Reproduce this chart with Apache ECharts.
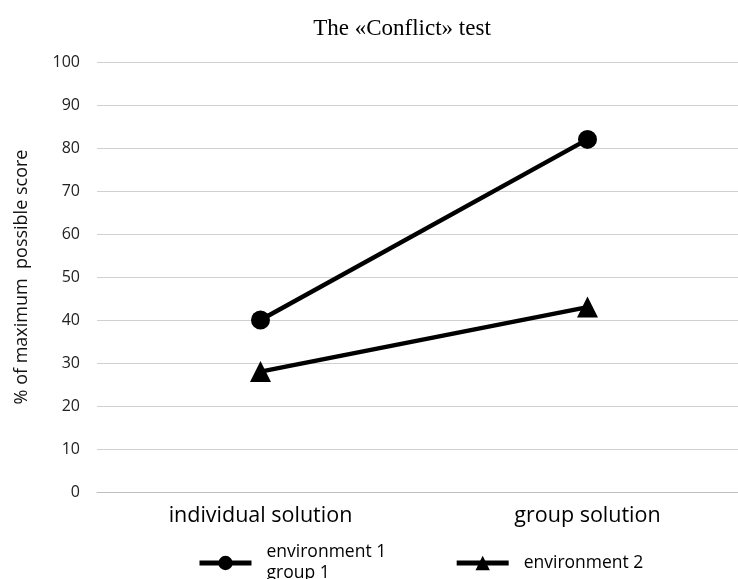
<!DOCTYPE html>
<html><head><meta charset="utf-8">
<script src="https://cdn.jsdelivr.net/npm/echarts@6/dist/echarts.min.js"></script>
<style>html,body{margin:0;padding:0;background:#fff}#c{width:738px;height:579px}</style>
</head><body><div id="c"></div>
<script>
const categories = ['individual solution', 'group solution'];
const env1Name = 'environment 1\ngroup 1';
const env2Name = 'environment 2';
const env1 = [40, 82];
const env2 = [28, 43];
const yTicks = [0, 10, 20, 30, 40, 50, 60, 70, 80, 90, 100];

const chart = echarts.init(document.getElementById('c'));
chart.setOption({
  backgroundColor: '#fff',
  animation: false,
  title: {
    text: 'The «Conflict» test', left: 397, top: 12, textAlign: 'center',
    textStyle: { fontFamily: 'Liberation Serif', fontSize: 23, fontWeight: 'normal', color: '#000' }
  },
  grid: { left: 97, width: 654, top: 62, bottom: 87, outerBoundsMode: 'none', containLabel: false },
  legend: {
    left: 192, top: 537, itemWidth: 52, itemHeight: 18, itemGap: 68,
    lineStyle: { width: 5 },
    textStyle: { fontFamily: 'Open Sans', fontSize: 17.5, color: '#000', lineHeight: 21, padding: [0, 0, 0, 10] },
    data: [env1Name, env2Name]
  },
  xAxis: {
    type: 'category', data: categories, boundaryGap: true,
    axisLine: { lineStyle: { color: '#bfbfbf', width: 1 } },
    axisTick: { show: false },
    axisLabel: { fontFamily: 'Open Sans', fontSize: 21.5, color: '#000', margin: 13 }
  },
  yAxis: {
    type: 'value', min: yTicks[0], max: yTicks[yTicks.length - 1], interval: 10,
    name: '% of maximum  possible score', nameLocation: 'middle', nameGap: 66, nameRotate: 90,
    nameTextStyle: { fontFamily: 'Open Sans', fontSize: 18, color: '#111' },
    axisLine: { show: false }, axisTick: { show: false },
    axisLabel: { fontFamily: 'Open Sans', fontSize: 16, color: '#222', margin: 17 },
    splitLine: { lineStyle: { color: '#d0d0d0', width: 1 } }
  },
  series: [
    { name: env1Name, type: 'line', data: env1, symbol: 'circle', symbolSize: 19,
      lineStyle: { color: '#000', width: 4.5 }, itemStyle: { color: '#000' } },
    { name: env2Name, type: 'line', data: env2, symbol: 'triangle', symbolSize: 21,
      lineStyle: { color: '#000', width: 4.5 }, itemStyle: { color: '#000' } }
  ]
});
</script></body></html>
